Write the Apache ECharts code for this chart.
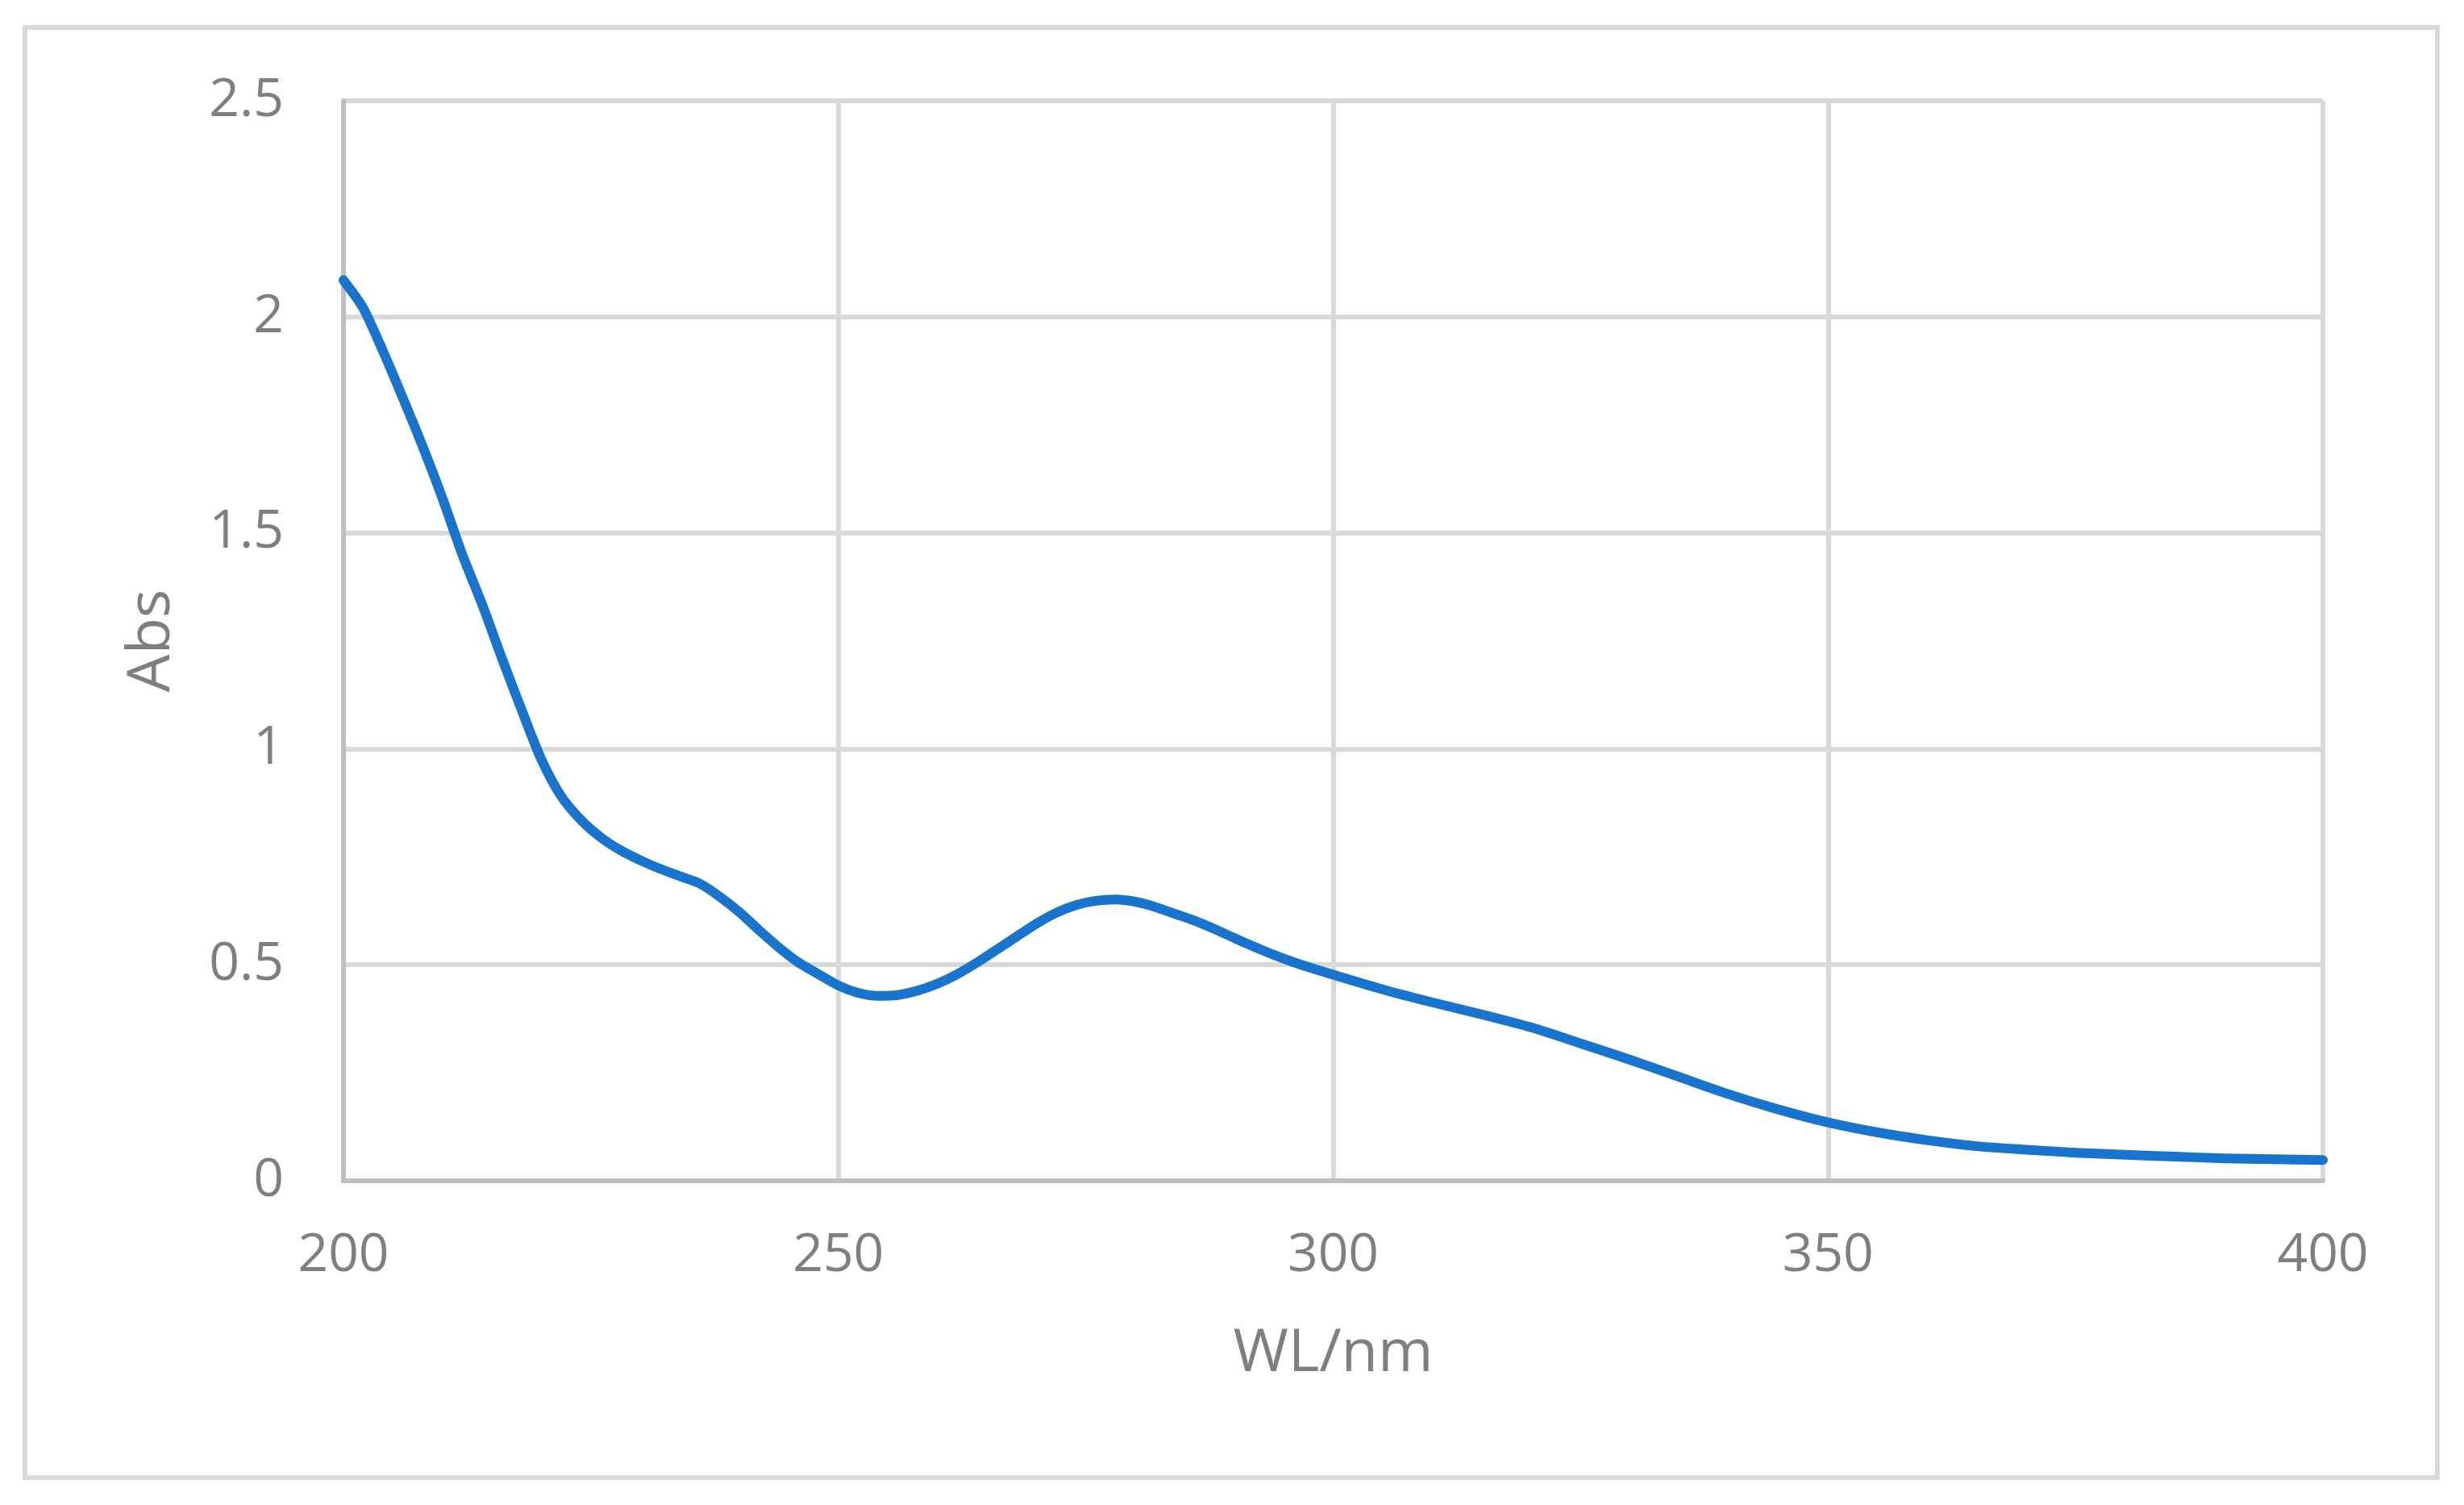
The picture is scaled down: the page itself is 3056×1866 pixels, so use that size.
<!DOCTYPE html>
<html>
<head>
<meta charset="utf-8">
<script src="https://cdn.jsdelivr.net/npm/echarts@6/dist/echarts.min.js"></script>
<style>
  html, body { margin: 0; padding: 0; background: #fff; }
  #chart { width: 3056px; height: 1866px; }
</style>
</head>
<body>
<div id="chart"></div>
<script>
// wavelength (nm) and absorbance
var wavelengths = [200, 202, 204, 206, 208, 210, 212, 214, 216, 218, 220, 222, 224, 226, 228, 230, 232, 234, 236, 238,
  240, 242, 244, 246, 248, 250, 252, 254, 256, 258, 260, 262, 264, 266, 268, 270, 272, 274, 276, 278,
  280, 282, 284, 286, 288, 290, 292, 294, 296, 298, 300, 305, 310, 315, 320, 325, 330, 335, 340, 345,
  350, 355, 360, 365, 370, 375, 380, 385, 390, 395, 400]
var absorbance = [2.085, 2.02, 1.92, 1.812, 1.70, 1.58, 1.45, 1.335, 1.21, 1.09, 0.975, 0.89, 0.835, 0.795, 0.765, 0.742, 0.722, 0.705, 0.688, 0.658,
  0.622, 0.58, 0.54, 0.505, 0.478, 0.452, 0.435, 0.428, 0.43, 0.44, 0.456, 0.478, 0.505, 0.535, 0.565, 0.595, 0.62, 0.638, 0.648, 0.651,
  0.646, 0.634, 0.618, 0.602, 0.583, 0.562, 0.542, 0.523, 0.506, 0.491, 0.477, 0.443, 0.413, 0.385, 0.355, 0.318, 0.28, 0.24, 0.2, 0.165,
  0.135, 0.112, 0.094, 0.08, 0.072, 0.065, 0.06, 0.056, 0.052, 0.05, 0.048]

var xName = 'WL/nm'
var yName = 'Abs'

var chart = echarts.init(document.getElementById('chart'))
var textColor = '#7f7f7f'
var font = '"Open Sans", "Noto Sans", sans-serif'

chart.setOption({
  animation: false,
  backgroundColor: '#fff',
  graphic: [
    {
      type: 'rect',
      shape: { x: 31, y: 34, width: 2992, height: 1798 },
      style: { fill: 'none', stroke: '#d9d9d9', lineWidth: 6 },
      silent: true
    }
  ],
  grid: {
    left: 426,
    right: 175,
    top: 125,
    bottom: 402
  },
  xAxis: {
    type: 'value',
    min: 200,
    max: 400,
    interval: 50,
    name: xName,
    nameLocation: 'middle',
    nameGap: 178,
    nameTextStyle: { color: textColor, fontSize: 74, fontFamily: font },
    axisLine: { lineStyle: { color: '#bfbfbf', width: 6 } },
    axisTick: { show: false },
    axisLabel: { color: textColor, fontSize: 66, fontFamily: font, margin: 60 },
    splitLine: { show: true, lineStyle: { color: '#d9d9d9', width: 6 } }
  },
  yAxis: {
    type: 'value',
    min: 0,
    max: 2.5,
    interval: 0.5,
    name: yName,
    nameLocation: 'middle',
    nameGap: 200,
    nameTextStyle: { color: textColor, fontSize: 74, fontFamily: font },
    axisLine: { show: true, lineStyle: { color: '#bfbfbf', width: 6 } },
    axisTick: { show: false },
    axisLabel: { color: textColor, fontSize: 66, fontFamily: font, margin: 74 },
    splitLine: { show: true, lineStyle: { color: '#d9d9d9', width: 6 } }
  },
  series: [
    {
      type: 'line',
      data: wavelengths.map(function(w, i) { return [w, absorbance[i]] }),
      showSymbol: false,
      smooth: 0.25,
      lineStyle: { color: '#1874cd', width: 12, cap: 'round', join: 'round' },
      itemStyle: { color: '#1874cd' }
    }
  ]
})
</script>
</body>
</html>
